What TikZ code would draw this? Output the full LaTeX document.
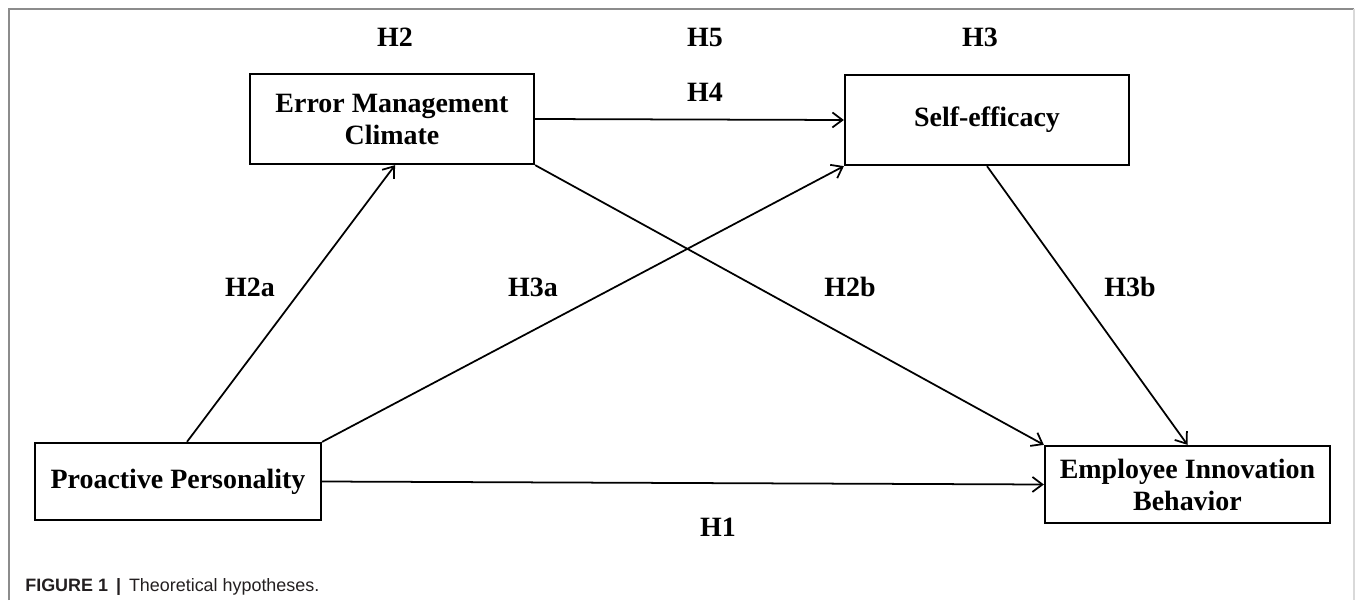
\documentclass[tikz,border=0pt]{standalone}
\usepackage{fontspec}
\setmainfont{Liberation Serif}
\newfontfamily\capfont{Liberation Sans}
\usepackage{tikz}
\usetikzlibrary{arrows.meta}
\usepackage{xcolor}
\definecolor{framegray}{HTML}{8C8C8C}
\definecolor{framelight}{HTML}{D9D9D9}
\definecolor{captext}{HTML}{231F20}

\begin{document}
\begin{tikzpicture}[
    box/.style={rectangle, draw, line width=1.3pt, align=center, inner sep=0pt,
      font=\fontsize{15.9}{18.2}\selectfont\bfseries},
    hyp/.style={inner sep=0pt, font=\fontsize{15.9}{18.2}\selectfont\bfseries},
    link/.style={line width=1pt, -{Straight Barb[length=2mm,width=3mm]}}
  ]
      % Variables
      \def \boxw   {5.68cm}
      \def \tallh  {1.8cm}
      \def \lowh   {1.54cm}
      \def \topy   {11.26}
      \def \midy   {6.26}

      \useasboundingbox (0,0) rectangle (27.1,12);

      % Frame
      \draw [framegray, line width=0.6pt] (0.18,0) -- (0.18,11.82) -- (27.08,11.82);
      \draw [framelight, line width=0.6pt] (27.08,11.82) -- (27.08,0);

      % Rectangles
      \node[box, minimum width=\boxw, minimum height=\tallh] (emc) at (7.84,9.62) {Error Management\\Climate};
      \node[box, minimum width=\boxw, minimum height=\tallh] (se) at (19.74,9.6) {Self-efficacy};
      \node[box, minimum width=5.72cm, minimum height=\lowh] (pp) at (3.56,2.37) {Proactive Personality};
      \node[box, minimum width=5.7cm, minimum height=\lowh] (eib) at (23.75,2.31) {Employee Innovation\\Behavior};

      % Arrows
      \draw [link] ([xshift=0.18cm]pp.north) -- ([xshift=0.06cm]emc.south);
      \draw [link] (pp.north east) -- (se.south west);
      \draw [link] (pp.east) -- (eib.west);
      \draw [link] (emc.east) -- (se.west);
      \draw [link] (emc.south east) -- (eib.north west);
      \draw [link] (se.south) -- (eib.north);

      % Hypotheses
      \node[hyp] (h2) at (7.9,\topy) {H2};
      \node[hyp] (h5) at (14.1,\topy) {H5};
      \node[hyp] (h3) at (19.6,\topy) {H3};
      \node[hyp] (h4) at (14.1,10.16) {H4};
      \node[hyp] (h2a) at (5.0,\midy) {H2a};
      \node[hyp] (h3a) at (10.66,\midy) {H3a};
      \node[hyp] (h2b) at (17.0,\midy) {H2b};
      \node[hyp] (h3b) at (22.6,\midy) {H3b};
      \node[hyp] (h1) at (14.36,1.46) {H1};

      % Caption
      \node[anchor=base west, inner sep=0pt, text=captext, font=\capfont\fontsize{10.2}{12}\selectfont] (caption) at (0.5,0.18)
        {\textbf{FIGURE 1}\hspace{0.16cm}\textbf{|}\hspace{0.16cm}Theoretical hypotheses.};

    \end{tikzpicture}
\end{document}
